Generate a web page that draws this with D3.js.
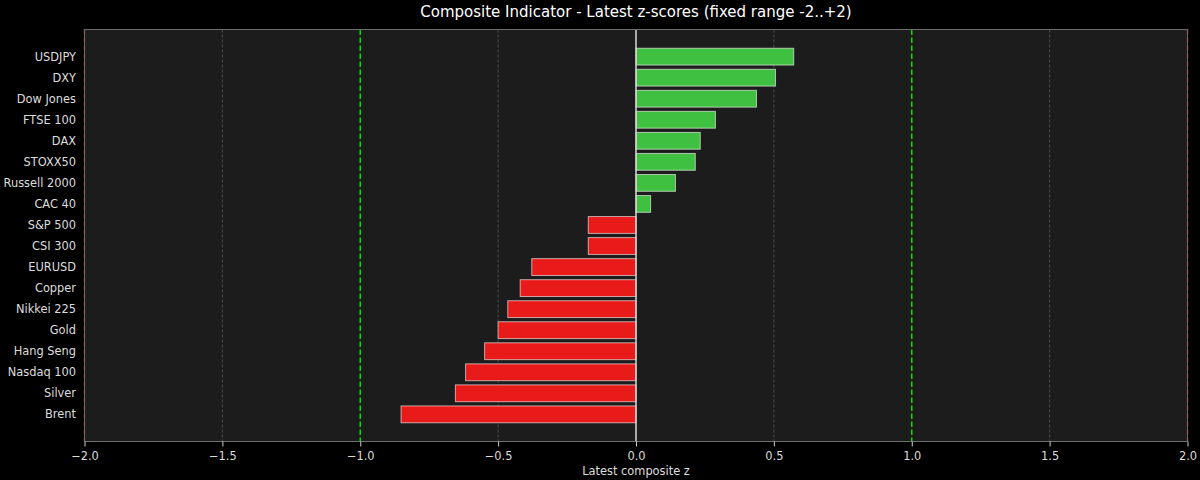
<!DOCTYPE html>
<html>
<head>
<meta charset="utf-8">
<script src="https://d3js.org/d3.v7.min.js"></script>
<style>
  body { margin: 0; background: #000; }
  svg { display: block; font-family: "DejaVu Sans", sans-serif; }
</style>
</head>
<body>
<svg id="chart" width="1200" height="480"></svg>
<script>
// latest composite z per asset, top to bottom
const assets = ["USDJPY", "DXY", "Dow Jones", "FTSE 100", "DAX", "STOXX50", "Russell 2000", "CAC 40",
  "S&P 500", "CSI 300", "EURUSD", "Copper", "Nikkei 225", "Gold", "Hang Seng", "Nasdaq 100", "Silver", "Brent"];
const zscores = [0.572, 0.506, 0.437, 0.288, 0.233, 0.215, 0.143, 0.053,
  -0.173, -0.173, -0.378, -0.420, -0.465, -0.500, -0.549, -0.618, -0.655, -0.852];
const xTicks = [-2.0, -1.5, -1.0, -0.5, 0.0, 0.5, 1.0, 1.5, 2.0];
const gridTicks = [-1.5, -0.5, 0.5, 1.5];
const bandLines = [-1, 1];
const limitLines = [-2, 2];

const svg = d3.select("#chart");
const m = {left: 84.5, right: 1187.5, top: 29.5, bottom: 441.5};

const x = d3.scaleLinear().domain([-2, 2]).range([m.left, m.right]);
// barh layout: categories 0..n-1, height 0.8, 5% margins
const n = assets.length;
const pad = (n - 1 + 0.8) * 0.05 + 0.4;
const y = d3.scaleLinear().domain([-pad, n - 1 + pad]).range([m.top, m.bottom]);
const barH = (y(0.8) - y(0));

svg.append("rect").attr("width", 1200).attr("height", 480).attr("fill", "#000");
svg.append("rect")
  .attr("x", m.left).attr("y", m.top)
  .attr("width", m.right - m.left).attr("height", m.bottom - m.top)
  .attr("fill", "#1c1c1c");

// grid
svg.append("g").selectAll("line").data(gridTicks).join("line")
  .attr("x1", d => x(d)).attr("x2", d => x(d))
  .attr("y1", m.top).attr("y2", m.bottom)
  .attr("stroke", "#5a5a5a").attr("stroke-width", 0.8)
  .attr("stroke-dasharray", "3,2");

// bars
svg.append("g").selectAll("rect").data(zscores).join("rect")
  .attr("x", d => x(Math.min(0, d)))
  .attr("width", d => Math.abs(x(d) - x(0)))
  .attr("y", (d, i) => y(i) - barH / 2)
  .attr("height", barH)
  .attr("fill", d => d >= 0 ? "#40c040" : "#e81a1a")
  .attr("stroke", "rgba(255,255,255,0.6)")
  .attr("stroke-width", 1);

// zero line
svg.append("line")
  .attr("x1", x(0)).attr("x2", x(0)).attr("y1", m.top).attr("y2", m.bottom)
  .attr("stroke", "#d8d8d8").attr("stroke-width", 1.5);

// +-1 green dashed
svg.append("g").selectAll("line").data(bandLines).join("line")
  .attr("x1", d => x(d)).attr("x2", d => x(d))
  .attr("y1", m.top).attr("y2", m.bottom)
  .attr("stroke", "#00e000").attr("stroke-width", 1.5)
  .attr("stroke-dasharray", "5.5,2.5");

// +-2 red dashed
svg.append("g").selectAll("line").data(limitLines).join("line")
  .attr("x1", d => x(d)).attr("x2", d => x(d))
  .attr("y1", m.top).attr("y2", m.bottom)
  .attr("stroke", "#a01818").attr("stroke-width", 1.5)
  .attr("stroke-dasharray", "5.5,2.5");

// spines
svg.append("rect")
  .attr("x", m.left).attr("y", m.top)
  .attr("width", m.right - m.left).attr("height", m.bottom - m.top)
  .attr("fill", "none").attr("stroke", "#6e6e6e").attr("stroke-width", 1);

// x axis
const fmt = d => d3.format(".1f")(d).replace("-", "\u2212");
const xAxis = svg.append("g")
  .attr("transform", `translate(0,${m.bottom})`)
  .call(d3.axisBottom(x).tickValues(xTicks).tickFormat(fmt).tickSize(5));
xAxis.select(".domain").remove();
xAxis.selectAll("line").attr("stroke", "#cccccc");
xAxis.selectAll("text")
  .attr("y", 18).attr("dy", null)
  .attr("fill", "#dddddd").attr("font-size", "11.4px")
  .attr("font-family", "DejaVu Sans");

// y labels
svg.append("g").selectAll("text").data(assets).join("text")
  .attr("x", m.left - 8.5)
  .attr("y", (d, i) => y(i))
  .attr("dy", "0.35em")
  .attr("text-anchor", "end")
  .attr("fill", "#dddddd")
  .attr("font-size", "11.4px")
  .text(d => d);

// titles
svg.append("text")
  .attr("x", (m.left + m.right) / 2).attr("y", 17)
  .attr("text-anchor", "middle")
  .attr("fill", "#ffffff").attr("font-size", "15px")
  .text("Composite Indicator - Latest z-scores (fixed range -2..+2)");

svg.append("text")
  .attr("x", (m.left + m.right) / 2).attr("y", 474.5)
  .attr("text-anchor", "middle")
  .attr("fill", "#dddddd").attr("font-size", "11.4px")
  .text("Latest composite z");
</script>
</body>
</html>
